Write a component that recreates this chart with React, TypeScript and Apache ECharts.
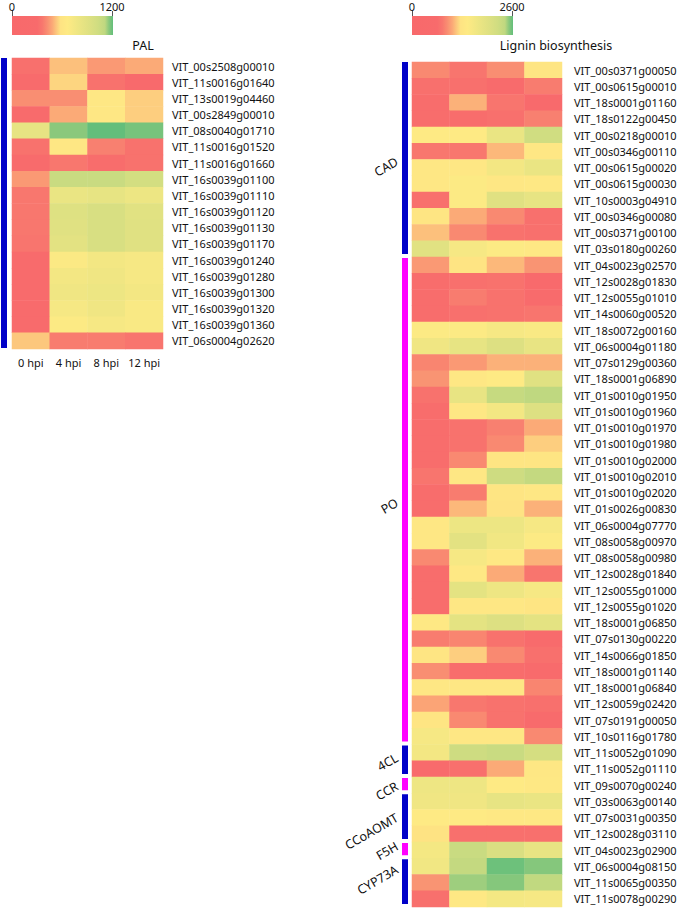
import React, { useEffect, useRef } from "react";
import * as echarts from "echarts";

const timePoints = ["0 hpi", "4 hpi", "8 hpi", "12 hpi"];

const palGenes = [
  "VIT_00s2508g00010", "VIT_11s0016g01640", "VIT_13s0019g04460", "VIT_00s2849g00010",
  "VIT_08s0040g01710", "VIT_11s0016g01520", "VIT_11s0016g01660", "VIT_16s0039g01100",
  "VIT_16s0039g01110", "VIT_16s0039g01120", "VIT_16s0039g01130", "VIT_16s0039g01170",
  "VIT_16s0039g01240", "VIT_16s0039g01280", "VIT_16s0039g01300", "VIT_16s0039g01320",
  "VIT_16s0039g01360", "VIT_06s0004g02620",
];

const palValues = [
  [324, 516, 444, 480],
  [240, 552, 336, 180],
  [420, 420, 624, 540],
  [300, 480, 624, 540],
  [840, 1152, 1200, 1176],
  [336, 624, 384, 336],
  [264, 360, 312, 336],
  [444, 1056, 1056, 996],
  [360, 816, 840, 792],
  [360, 912, 960, 888],
  [360, 900, 960, 900],
  [348, 876, 960, 900],
  [264, 684, 744, 720],
  [264, 744, 768, 720],
  [264, 768, 792, 744],
  [264, 720, 768, 696],
  [264, 672, 720, 696],
  [528, 372, 372, 348],
];

const ligninGenes = [
  "VIT_00s0371g00050", "VIT_00s0615g00010", "VIT_18s0001g01160", "VIT_18s0122g00450",
  "VIT_00s0218g00010", "VIT_00s0346g00110", "VIT_00s0615g00020", "VIT_00s0615g00030",
  "VIT_10s0003g04910", "VIT_00s0346g00080", "VIT_00s0371g00100", "VIT_03s0180g00260",
  "VIT_04s0023g02570", "VIT_12s0028g01830", "VIT_12s0055g01010", "VIT_14s0060g00520",
  "VIT_18s0072g00160", "VIT_06s0004g01180", "VIT_07s0129g00360", "VIT_18s0001g06890",
  "VIT_01s0010g01950", "VIT_01s0010g01960", "VIT_01s0010g01970", "VIT_01s0010g01980",
  "VIT_01s0010g02000", "VIT_01s0010g02010", "VIT_01s0010g02020", "VIT_01s0026g00830",
  "VIT_06s0004g07770", "VIT_08s0058g00970", "VIT_08s0058g00980", "VIT_12s0028g01840",
  "VIT_12s0055g01000", "VIT_12s0055g01020", "VIT_18s0001g06850", "VIT_07s0130g00220",
  "VIT_14s0066g01850", "VIT_18s0001g01140", "VIT_18s0001g06840", "VIT_12s0059g02420",
  "VIT_07s0191g00050", "VIT_10s0116g01780", "VIT_11s0052g01090", "VIT_11s0052g01110",
  "VIT_09s0070g00240", "VIT_03s0063g00140", "VIT_07s0031g00350", "VIT_12s0028g03110",
  "VIT_04s0023g02900", "VIT_06s0004g08150", "VIT_11s0065g00350", "VIT_11s0078g00290",
];

const ligninValues = [
  [884, 754, 910, 1300],
  [702, 702, 650, 806],
  [676, 1066, 754, 390],
  [676, 676, 702, 832],
  [1430, 1430, 1768, 2210],
  [780, 780, 1092, 1352],
  [1352, 1352, 1612, 1768],
  [1352, 1456, 1352, 1378],
  [702, 1456, 1950, 1820],
  [1300, 1040, 884, 702],
  [1118, 884, 728, 702],
  [1924, 1560, 1456, 1378],
  [962, 1274, 1092, 936],
  [676, 702, 728, 390],
  [676, 806, 728, 520],
  [676, 702, 728, 754],
  [1456, 1456, 1560, 1508],
  [1664, 1820, 2002, 1794],
  [858, 962, 1066, 1066],
  [936, 1352, 1430, 1950],
  [728, 1794, 2314, 2392],
  [676, 1352, 1612, 2002],
  [676, 728, 832, 1040],
  [676, 728, 884, 1170],
  [676, 884, 1300, 1300],
  [754, 1352, 2236, 2340],
  [676, 806, 1300, 1352],
  [676, 1092, 1248, 1066],
  [1352, 1716, 1716, 1560],
  [1352, 1898, 1638, 1456],
  [884, 1560, 1378, 1066],
  [676, 1378, 1040, 754],
  [676, 1872, 1690, 1560],
  [676, 1352, 1352, 1300],
  [1378, 1872, 2002, 1872],
  [806, 858, 728, 650],
  [1300, 1170, 884, 702],
  [910, 676, 676, 650],
  [1352, 1352, 1352, 858],
  [1014, 780, 728, 702],
  [1300, 884, 728, 624],
  [1560, 1352, 1352, 884],
  [1612, 2236, 2288, 2132],
  [624, 702, 1040, 1352],
  [1690, 1690, 1430, 1378],
  [1664, 1664, 1820, 1768],
  [1430, 1430, 1378, 1378],
  [1248, 702, 702, 702],
  [1586, 2288, 2054, 1794],
  [1638, 2340, 2574, 2509],
  [936, 2457, 2509, 2366],
  [702, 1378, 1586, 1560],
];

const ligninGroups = ["CAD", "PO", "4CL", "CCR", "CCoAOMT", "F5H", "CYP73A"];
const ligninGroupSizes = [12, 30, 2, 1, 3, 1, 3];

const palRange = [0, 1200];
const ligninRange = [0, 2600];

// ---------- styling / layout ----------
const FONT = "'Noto Sans', 'Open Sans', sans-serif";
const TEXT = "#111111";
const BLUE = "#0000c8";
const MAGENTA = "#ff00ff";
const groupColors = [BLUE, MAGENTA, BLUE, MAGENTA, BLUE, MAGENTA, BLUE];
const labelDy = [1, 1, -4, 0, -1, -5, -14];

const palGrid = { left: 12, top: 58, width: 151, height: 291 };
const ligGrid = { left: 412, top: 62, width: 150, height: 845 };

const colorStops: [number, string][] = [
  [0, "#f8696b"],
  [0.25, "#f86b6c"],
  [0.3, "#f8776e"],
  [0.35, "#f98e72"],
  [0.4, "#fbaa77"],
  [0.44, "#fcc77d"],
  [0.48, "#fee383"],
  [0.55, "#feea84"],
  [0.65, "#eee683"],
  [0.75, "#e0e182"],
  [0.85, "#d0dd81"],
  [0.92, "#bfd880"],
  [0.96, "#8ac87c"],
  [1, "#63be7b"],
];

function hexToRgb(h: string) {
  return [parseInt(h.slice(1, 3), 16), parseInt(h.slice(3, 5), 16), parseInt(h.slice(5, 7), 16)];
}
function interp(t: number) {
  for (let i = 1; i < colorStops.length; i++) {
    const [t1, c1] = colorStops[i];
    const [t0, c0] = colorStops[i - 1];
    if (t <= t1) {
      const f = t1 === t0 ? 0 : (t - t0) / (t1 - t0);
      const a = hexToRgb(c0);
      const b = hexToRgb(c1);
      const r = a.map((v, k) => Math.round(v + (b[k] - v) * f));
      return `rgb(${r[0]},${r[1]},${r[2]})`;
    }
  }
  return colorStops[colorStops.length - 1][1];
}
const mapColors = Array.from({ length: 201 }, (_, i) => interp(i / 200));

function toCells(values: number[][]) {
  const out: number[][] = [];
  values.forEach((row, r) => row.forEach((v, c) => out.push([c, r, v])));
  return out;
}

function colorbar(x: number, lo: number, hi: number) {
  const w = 101;
  return [
    {
      type: "rect",
      shape: { x, y: 16, width: w, height: 19 },
      style: {
        fill: new echarts.graphic.LinearGradient(
          0, 0, 1, 0,
          colorStops.map(([o, c]) => ({ offset: o, color: c }))
        ),
      },
    },
    { type: "line", shape: { x1: x + 0.5, y1: 11, x2: x + 0.5, y2: 16 }, style: { stroke: "#555", lineWidth: 1 } },
    { type: "line", shape: { x1: x + w - 0.5, y1: 11, x2: x + w - 0.5, y2: 16 }, style: { stroke: "#555", lineWidth: 1 } },
    {
      type: "text", x, y: 6,
      style: { text: String(lo), fontSize: 11, fontFamily: FONT, fill: TEXT, align: "center", verticalAlign: "middle" },
    },
    {
      type: "text", x: x + w - 1, y: 6,
      style: { text: String(hi), fontSize: 11, fontFamily: FONT, fill: TEXT, align: "center", verticalAlign: "middle" },
    },
  ];
}

export default function App() {
  const ref = useRef<HTMLDivElement>(null);

  useEffect(() => {
    if (!ref.current) return;
    const chart = echarts.init(ref.current, undefined, { renderer: "svg" });

    const rowH = ligGrid.height / ligninGenes.length;
    const groupEls: any[] = [];
    let start = 0;
    ligninGroups.forEach((g, i) => {
      const n = ligninGroupSizes[i];
      const y0 = ligGrid.top + start * rowH + (start === 0 ? 0 : 1);
      const y1 = ligGrid.top + (start + n) * rowH - 3;
      groupEls.push({
        type: "rect",
        shape: { x: 402, y: y0, width: 6, height: y1 - y0 },
        style: { fill: groupColors[i] },
      });
      const cy = ligGrid.top + (start + n / 2) * rowH + labelDy[i];
      groupEls.push({
        type: "text",
        x: 397,
        y: cy,
        rotation: Math.PI / 6,
        style: { text: g, fontSize: 12.5, fontFamily: FONT, fill: TEXT, align: "right", verticalAlign: "middle" },
      });
      start += n;
    });

    const yAxisCommon = {
      type: "category",
      inverse: true,
      position: "right",
      axisLine: { show: false },
      axisTick: { show: false },
      splitLine: { show: false },
    };

    chart.setOption({
      animation: false,
      backgroundColor: "#ffffff",
      grid: [
        { ...palGrid, containLabel: false },
        { ...ligGrid, containLabel: false },
      ],
      xAxis: [
        {
          type: "category",
          gridIndex: 0,
          data: timePoints,
          position: "bottom",
          axisLine: { show: false },
          axisTick: { show: false },
          splitLine: { show: false },
          axisLabel: { fontSize: 11, fontFamily: FONT, color: TEXT, margin: 8, interval: 0 },
        },
        { type: "category", gridIndex: 1, data: timePoints, show: false },
      ],
      yAxis: [
        {
          ...yAxisCommon,
          gridIndex: 0,
          data: palGenes,
          axisLabel: { fontSize: 11, fontFamily: FONT, color: TEXT, margin: 9, interval: 0 },
        },
        {
          ...yAxisCommon,
          gridIndex: 1,
          data: ligninGenes,
          axisLabel: { fontSize: 11, fontFamily: FONT, color: TEXT, margin: 12, interval: 0 },
        },
      ],
      visualMap: [
        {
          type: "continuous",
          show: false,
          seriesIndex: 0,
          min: palRange[0],
          max: palRange[1],
          inRange: { color: mapColors },
        },
        {
          type: "continuous",
          show: false,
          seriesIndex: 1,
          min: ligninRange[0],
          max: ligninRange[1],
          inRange: { color: mapColors },
        },
      ],
      series: [
        {
          name: "PAL",
          type: "heatmap",
          xAxisIndex: 0,
          yAxisIndex: 0,
          data: toCells(palValues),
          itemStyle: { borderWidth: 0 },
          emphasis: { disabled: true },
          progressive: 0,
        },
        {
          name: "Lignin biosynthesis",
          type: "heatmap",
          xAxisIndex: 1,
          yAxisIndex: 1,
          data: toCells(ligninValues),
          itemStyle: { borderWidth: 0 },
          emphasis: { disabled: true },
          progressive: 0,
        },
      ],
      graphic: [
        ...colorbar(12, palRange[0], palRange[1]),
        ...colorbar(412, ligninRange[0], ligninRange[1]),
        {
          type: "text", x: 143, y: 45,
          style: { text: "PAL", fontSize: 12.5, fontFamily: FONT, fill: TEXT, align: "center", verticalAlign: "middle" },
        },
        {
          type: "text", x: 556, y: 45,
          style: { text: "Lignin biosynthesis", fontSize: 12.5, fontFamily: FONT, fill: TEXT, align: "center", verticalAlign: "middle" },
        },
        {
          type: "rect",
          shape: { x: 1, y: palGrid.top, width: 6, height: palGrid.height - 1 },
          style: { fill: BLUE },
        },
        ...groupEls,
      ],
    });

    return () => chart.dispose();
  }, []);

  return (
    <div
      ref={ref}
      style={{ position: "absolute", left: 0, top: 0, width: 685, height: 912, background: "#fff" }}
    />
  );
}
